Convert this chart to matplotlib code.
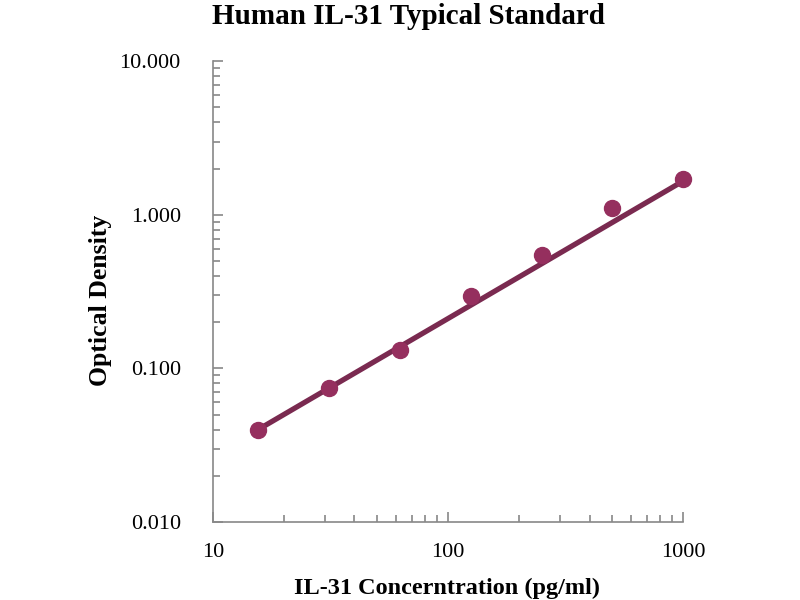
import numpy as np
import matplotlib.pyplot as plt
from matplotlib.ticker import FixedLocator, FixedFormatter, LogLocator, NullFormatter

# standard curve points
conc = [15.6, 31.25, 62.5, 125, 250, 500, 1000]   # pg/ml
od = [0.040, 0.0745, 0.132, 0.295, 0.546, 1.10, 1.70]

# power trend line end points
fit_conc = [15.6, 1000]
fit_od = [0.040, 1.66]

x_ticks = [10, 100, 1000]
x_labels = ['10', '100', '1000']
y_ticks = [0.01, 0.1, 1, 10]
y_labels = ['0.010', '0.100', '1.000', '10.000']

plt.rcParams['font.family'] = ['Liberation Serif', 'DejaVu Serif']

fig = plt.figure(figsize=(8, 6), dpi=100)
ax = fig.add_axes([0.266, 0.13, 0.588, 0.768])

ax.plot(fit_conc, fit_od, color='#7a2a50', lw=3.8, solid_capstyle='round', zorder=2, clip_on=False)
ax.plot(conc, od, 'o', color='#952f5e', ms=11.5, zorder=3, clip_on=False)

ax.set_xscale('log')
ax.set_yscale('log')
ax.set_xlim(10, 1000)
ax.set_ylim(0.01, 10)

ax.xaxis.set_major_locator(FixedLocator(x_ticks))
ax.xaxis.set_major_formatter(FixedFormatter(x_labels))
ax.yaxis.set_major_locator(FixedLocator(y_ticks))
ax.yaxis.set_major_formatter(FixedFormatter(y_labels))
ax.xaxis.set_minor_locator(LogLocator(base=10, subs=np.arange(2, 10)))
ax.yaxis.set_minor_locator(LogLocator(base=10, subs=np.arange(2, 10)))
ax.xaxis.set_minor_formatter(NullFormatter())
ax.yaxis.set_minor_formatter(NullFormatter())

for s in ['top', 'right']:
    ax.spines[s].set_visible(False)
for s in ['left', 'bottom']:
    ax.spines[s].set_color('#888888')
    ax.spines[s].set_linewidth(1.2)

ax.tick_params(which='both', direction='in', color='#888888', width=1.2)
ax.tick_params(which='major', length=7, labelsize=16)
ax.tick_params(axis='y', which='major', pad=23)
ax.tick_params(axis='x', which='major', pad=15)
ax.tick_params(which='minor', length=5)

fig.text(0.559, 1 - 588/600, 'IL-31 Concerntration (pg/ml)', ha='center', va='center',
         fontsize=17.5, fontweight='bold')
fig.text(100/800, 1 - 300/600, 'Optical Density', ha='center', va='center',
         rotation=90, fontsize=18.5, fontweight='bold')
fig.text(0.51, 1 - 17/600, 'Human IL-31 Typical Standard', ha='center', va='center',
         fontsize=21, fontweight='bold')

fig.savefig('out.png', dpi=100)
